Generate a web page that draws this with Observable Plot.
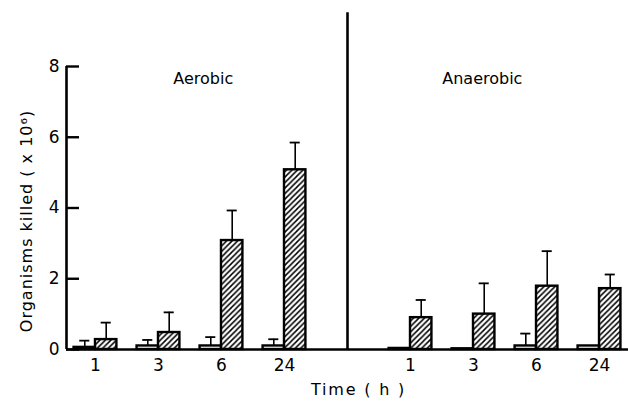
<!DOCTYPE html>
<html><head><meta charset="utf-8">
<script src="https://cdn.jsdelivr.net/npm/d3@7"></script>
<script src="https://cdn.jsdelivr.net/npm/@observablehq/plot@0.6"></script>
<style>body{margin:0;background:#fff}</style>
</head><body>
<svg width="0" height="0" style="position:absolute"><defs>
<pattern id="hatch" patternUnits="userSpaceOnUse" width="5.5" height="5.5">
<path d="M-1,1 L1,-1 M0,5.5 L5.5,0 M4.5,6.5 L6.5,4.5" stroke="#000" stroke-width="1.5"/>
</pattern></defs></svg>
<div id="chart"></div>
<script>
// Data
const conditions = ["Aerobic", "Anaerobic"];
const times = ["1", "3", "6", "24"];
const yTicks = [0, 2, 4, 6, 8];
// open (white) bars
const openMean = [[0.06, 0.1, 0.1, 0.1], [0.03, 0.02, 0.1, 0.1]];
const openSD   = [[0.19, 0.17, 0.25, 0.19], [0, 0, 0.35, 0]];
// hatched bars
const hatchMean = [[0.28, 0.48, 3.08, 5.08], [0.9, 1.0, 1.79, 1.72]];
const hatchSD   = [[0.48, 0.57, 0.85, 0.77], [0.5, 0.87, 0.99, 0.4]];
const yLabel = "Organisms killed ( x 10⁶)";
const xLabel = "Time ( h )";

const dividerTop = 9.52;
const half = 0.34;   // bar width in x units
const cap = 0.08;    // half cap width

const rows = [];
const ticks = [];
conditions.forEach((c, ci) => {
  times.forEach((t, ti) => {
    const pos = ci * 5 + ti;
    ticks.push({pos, label: t});
    rows.push({cond: c, time: t, pos, series: "open", mean: openMean[ci][ti], sd: openSD[ci][ti],
      x1: pos - half, x2: pos, xc: pos - half / 2});
    rows.push({cond: c, time: t, pos, series: "hatched", mean: hatchMean[ci][ti], sd: hatchSD[ci][ti],
      x1: pos, x2: pos + half, xc: pos + half / 2});
  });
});
const tickLabel = new Map(ticks.map(d => [d.pos, d.label]));
const panelLabels = [{name: conditions[0], x: 1.71}, {name: conditions[1], x: 6.14}];
const errs = rows.filter(d => d.sd > 0);

const chart = Plot.plot({
  width: 628,
  height: 406,
  marginLeft: 66,
  marginRight: 0,
  marginTop: 66,
  marginBottom: 57,
  style: {fontFamily: "DejaVu Sans", fontSize: "17px", background: "#fff", color: "#000"},
  x: {type: "linear", domain: [-0.46, 8.46], axis: null},
  y: {domain: [0, 8], axis: null},
  marks: [
    Plot.axisY({ticks: yTicks, tickSize: -13, tickPadding: 20, strokeWidth: 2.4, fontSize: 17, label: null}),
    Plot.axisX({ticks: ticks.map(d => d.pos), tickFormat: p => tickLabel.get(p), tickSize: 0, tickPadding: 9, fontSize: 17, label: null}),
    Plot.rectY(rows, {x1: "x1", x2: "x2", y1: 0, y2: "mean",
      fill: d => d.series === "open" ? "#fff" : "url(#hatch)", stroke: "#000", strokeWidth: 2.4}),
    Plot.ruleX(errs, {x: "xc", y1: "mean", y2: d => d.mean + d.sd, stroke: "#000", strokeWidth: 1.6}),
    Plot.ruleY(errs, {y: d => d.mean + d.sd, x1: d => d.xc - cap, x2: d => d.xc + cap, stroke: "#000", strokeWidth: 1.8}),
    Plot.ruleY([0], {stroke: "#000", strokeWidth: 2.6}),
    Plot.ruleX([-0.46], {y1: 0, y2: 8, stroke: "#000", strokeWidth: 2.6}),
    Plot.ruleX([4], {y1: 0, y2: dividerTop, stroke: "#000", strokeWidth: 2.6}),
    Plot.text(panelLabels, {x: "x", y: 7.66, text: "name", fontSize: 16}),
    Plot.text([yLabel], {frameAnchor: "left", textAnchor: "middle", rotate: -90, dx: -40, dy: 13, fontSize: 16}),
    Plot.text([xLabel], {x: 4, frameAnchor: "bottom", textAnchor: "middle", dy: 45, dx: 11, fontSize: 16})
  ]
});
d3.select(chart).selectAll("text").filter(function() { return this.textContent === yLabel; }).style("letter-spacing", "1px");
d3.select(chart).selectAll("text").filter(function() { return this.textContent === xLabel; }).style("letter-spacing", "1.8px");
document.getElementById("chart").appendChild(chart);
</script>
</body></html>
